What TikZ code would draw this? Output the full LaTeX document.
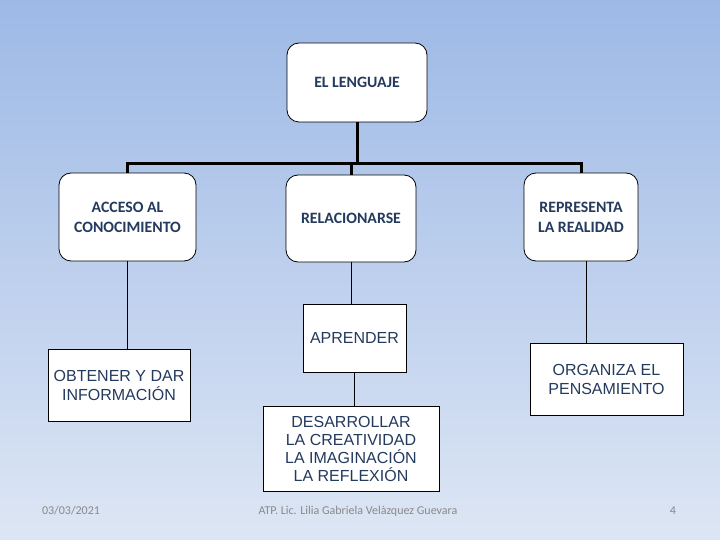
\documentclass[tikz,border=0pt]{standalone}
\usepackage{fontspec}
\setmainfont{Carlito}
\newfontfamily\lowfont{Liberation Sans}
\definecolor{bgtop}{RGB}{157,185,230}
\definecolor{bgbot}{RGB}{221,230,244}
\definecolor{txt}{RGB}{36,58,94}
\definecolor{foot}{RGB}{137,137,137}
\begin{document}
\begin{tikzpicture}[x=1pt,y=-1pt,
 topbox/.style={draw=black, line width=0.8pt, fill=white, rounded corners=12pt, inner sep=0pt, align=center, text=txt, font=\bfseries\fontsize{15.8}{20}\selectfont},
 lowbox/.style={draw=black, line width=0.8pt, fill=white, inner sep=0pt, align=center, text=txt, font=\lowfont\fontsize{16}{19}\selectfont},
 buslink/.style={line width=3pt},
 thinlink/.style={line width=0.9pt},
 foottext/.style={text=foot, anchor=base, font=\fontsize{12}{14}\selectfont}
]
\shade[top color=bgtop, bottom color=bgbot] (0,0) rectangle (720,540);
\useasboundingbox (0,0) rectangle (720,540);

\node[topbox, minimum width=140pt, minimum height=79pt] (len) at (357,82.5) {EL LENGUAJE};
\node[topbox, minimum width=137pt, minimum height=88pt] (acc) at (127.5,217) {ACCESO AL\\CONOCIMIENTO};
\node[topbox, minimum width=130pt, minimum height=87pt] (rel) at (351,218.5) {RELACIONARSE};
\node[topbox, minimum width=114pt, minimum height=88pt] (rep) at (581,217) {REPRESENTA\\LA REALIDAD};
\node[lowbox, minimum width=103pt, minimum height=68pt] (apr) at (354.5,338) {APRENDER};
\node[lowbox, minimum width=142pt, minimum height=72pt] (obt) at (119,385) {OBTENER Y DAR\\INFORMACIÓN};
\node[lowbox, minimum width=153pt, minimum height=72pt] (org) at (606.5,379) {ORGANIZA EL\\PENSAMIENTO};
\node[lowbox, minimum width=176pt, minimum height=85pt, font=\lowfont\fontsize{16}{18}\selectfont] (des) at (351,448.5) {DESARROLLAR\\LA CREATIVIDAD\\LA IMAGINACIÓN\\LA REFLEXIÓN};

\coordinate (bus) at (357,164);
\coordinate (busL) at (127.5,164);
\coordinate (busR) at (581,164);
\draw[buslink] (len.south) -- (bus);
\draw[buslink] (acc.north) -- (busL) -- (busR) -- (rep.north);
\draw[buslink] (rel.north |- bus) -- (rel.north);

\coordinate (repdrop) at (586,261);
\draw[thinlink] (acc.south) -- (acc.south |- obt.north);
\draw[thinlink] (repdrop) -- (repdrop |- org.north);
\draw[thinlink] (rel.south) -- (rel.south |- apr.north);
\draw[thinlink] (apr.south) -- (apr.south |- des.north);

\node[foottext] (date) at (71,514) {03/03/2021};
\node[foottext] (auth) at (358,514) {ATP. Lic. Lilia Gabriela Velàzquez Guevara};
\node[foottext] (page) at (673,514) {4};
\end{tikzpicture}
\end{document}
